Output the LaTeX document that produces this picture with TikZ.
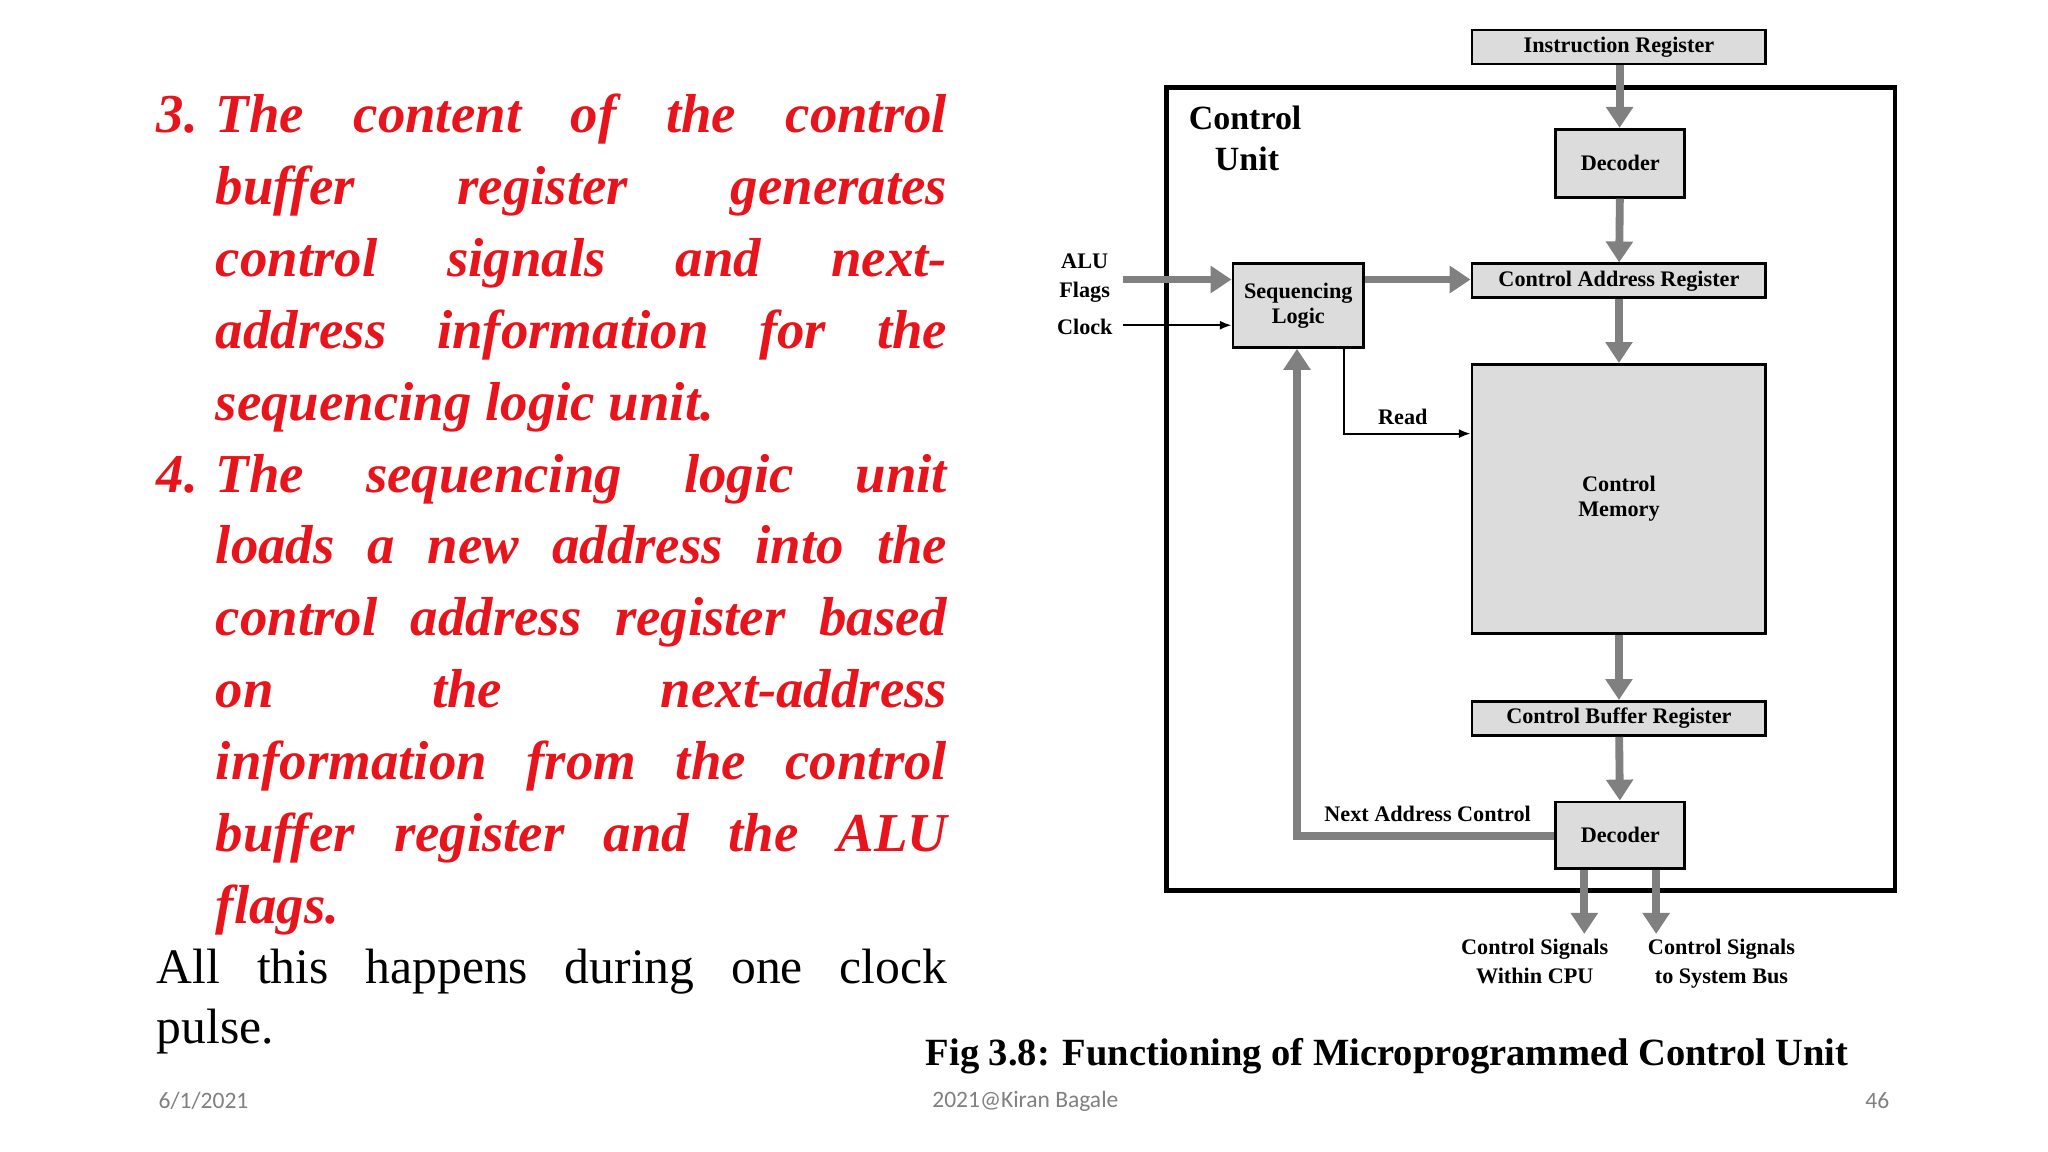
\documentclass[tikz,border=0pt]{standalone}
\usepackage{fontspec}
\setmainfont{Liberation Serif}
\newfontfamily\calib{Carlito}
\usetikzlibrary{arrows.meta}
\definecolor{redtxt}{HTML}{E8141B}
\definecolor{boxfill}{HTML}{DCDCDC}
\definecolor{garr}{HTML}{808080}
\begin{document}
\begin{tikzpicture}[x=1pt,y=-1pt,
  blk/.style={draw=black,line width=2.2pt,fill=boxfill,inner sep=0pt,font=\fontsize{17}{19}\selectfont\bfseries,align=center},
  garrow/.style={draw=garr,line width=6pt,-{Triangle[length=16pt,width=20pt]}},
  thin/.style={draw=black,line width=1.6pt,-{Latex[length=9pt,width=7pt]}},
  lbl/.style={font=\fontsize{17}{20}\selectfont\bfseries,align=center,inner sep=0pt}]
\useasboundingbox (0,0) rectangle (1568,882);
\fill[white] (0,0) rectangle (1568,882);
% text
\node[anchor=north west,inner sep=0pt,text width=605pt,align=justify,font=\fontsize{42}{55}\selectfont] (txt) at (120,72) {%
\color{redtxt}\bfseries\itshape
\noindent\hangindent=45pt\hangafter=1\makebox[45pt][l]{3.}The content of the control\linebreak buffer register generates\linebreak control signals and next-\linebreak address information for the\linebreak sequencing logic unit.\par
\noindent\hangindent=45pt\hangafter=1\makebox[45pt][l]{4.}The sequencing logic unit\linebreak loads a new address into the\linebreak control address register based\linebreak on the next-address\linebreak information from the control\linebreak buffer register and the ALU\linebreak flags.\par
\color{black}\mdseries\upshape\fontsize{38}{46}\selectfont
\noindent All this happens during one clock\linebreak pulse.\par};
\node[font=\calib\fontsize{18}{20}\selectfont,text=gray,anchor=west] (d) at (118,843) {6/1/2021};
\node[font=\calib\fontsize{18}{20}\selectfont,text=gray] (a) at (785,843) {2021@Kiran Bagale};
\node[font=\calib\fontsize{18}{20}\selectfont,text=gray,anchor=east] (p) at (1450,843) {46};
\node[font=\fontsize{29.5}{31}\selectfont\bfseries] (cap) at (1062,809) {Fig 3.8: Functioning of Microprogrammed Control Unit};
% diagram
\draw[line width=3.5pt] (893,67) rectangle (1451,682);
\node[anchor=north west,font=\fontsize{26}{31}\selectfont\bfseries,align=left,inner sep=0pt] (cu) at (910,81) {Control\\\hspace*{20pt}Unit};
\node[blk,minimum width=225pt,minimum height=26pt] (ir) at (1239.5,36) {Instruction Register};
\node[blk,minimum width=99pt,minimum height=52pt] (dec1) at (1240.5,125) {Decoder};
\node[blk,minimum width=225pt,minimum height=26pt] (car) at (1239.5,215) {Control Address Register};
\node[blk,minimum width=100pt,minimum height=64pt] (sl) at (994,234) {Sequencing\\Logic};
\node[blk,minimum width=225pt,minimum height=206pt] (cm) at (1239.5,382) {Control\\Memory};
\node[blk,minimum width=225pt,minimum height=26pt] (cbr) at (1239.5,550) {Control Buffer Register};
\node[blk,minimum width=99pt,minimum height=51pt] (dec2) at (1240.5,639.5) {Decoder};
\draw[garrow] (ir.south -| 1240,0) -- (dec1.north -| 1240,0);
\draw[garrow] (dec1) -- (car);
\draw[garrow] (car) -- (cm);
\draw[garrow] (cm) -- (cbr);
\draw[garrow] (cbr) -- (dec2);
\draw[garrow] (sl.east |- 0,214) -- (car.west |- 0,214);
\coordinate (alu) at (860,214);
\coordinate (clk) at (860,249);
\draw[garrow] (alu) -- (sl.west |- alu);
\draw[thin] (clk) -- (sl.west |- clk);
\node[lbl,anchor=east] (alul) at (850,213) {ALU\\[2pt]Flags};
\node[lbl,anchor=east] (clkl) at (852,250) {Clock};
\coordinate (rd) at (1029,332);
\draw[thin] (sl.south -| rd) -- (rd) -- (cm.west |- rd);
\node[lbl] (readl) at (1074,319) {Read};
\draw[garrow] (dec2.west |- 0,640) -- (993,640) -- (sl.south -| 993,0);
\node[lbl] (nacl) at (1093,623) {Next Address Control};
\coordinate (o1) at (1213,715);
\coordinate (o2) at (1268,715);
\draw[garrow] (dec2.south -| o1) -- (o1);
\draw[garrow] (dec2.south -| o2) -- (o2);
\node[lbl,anchor=north] (l1) at (1175,719) {Control Signals\\[2pt]Within CPU};
\node[lbl,anchor=north] (l2) at (1318,719) {Control Signals\\[2pt]to System Bus};
\end{tikzpicture}
\end{document}
